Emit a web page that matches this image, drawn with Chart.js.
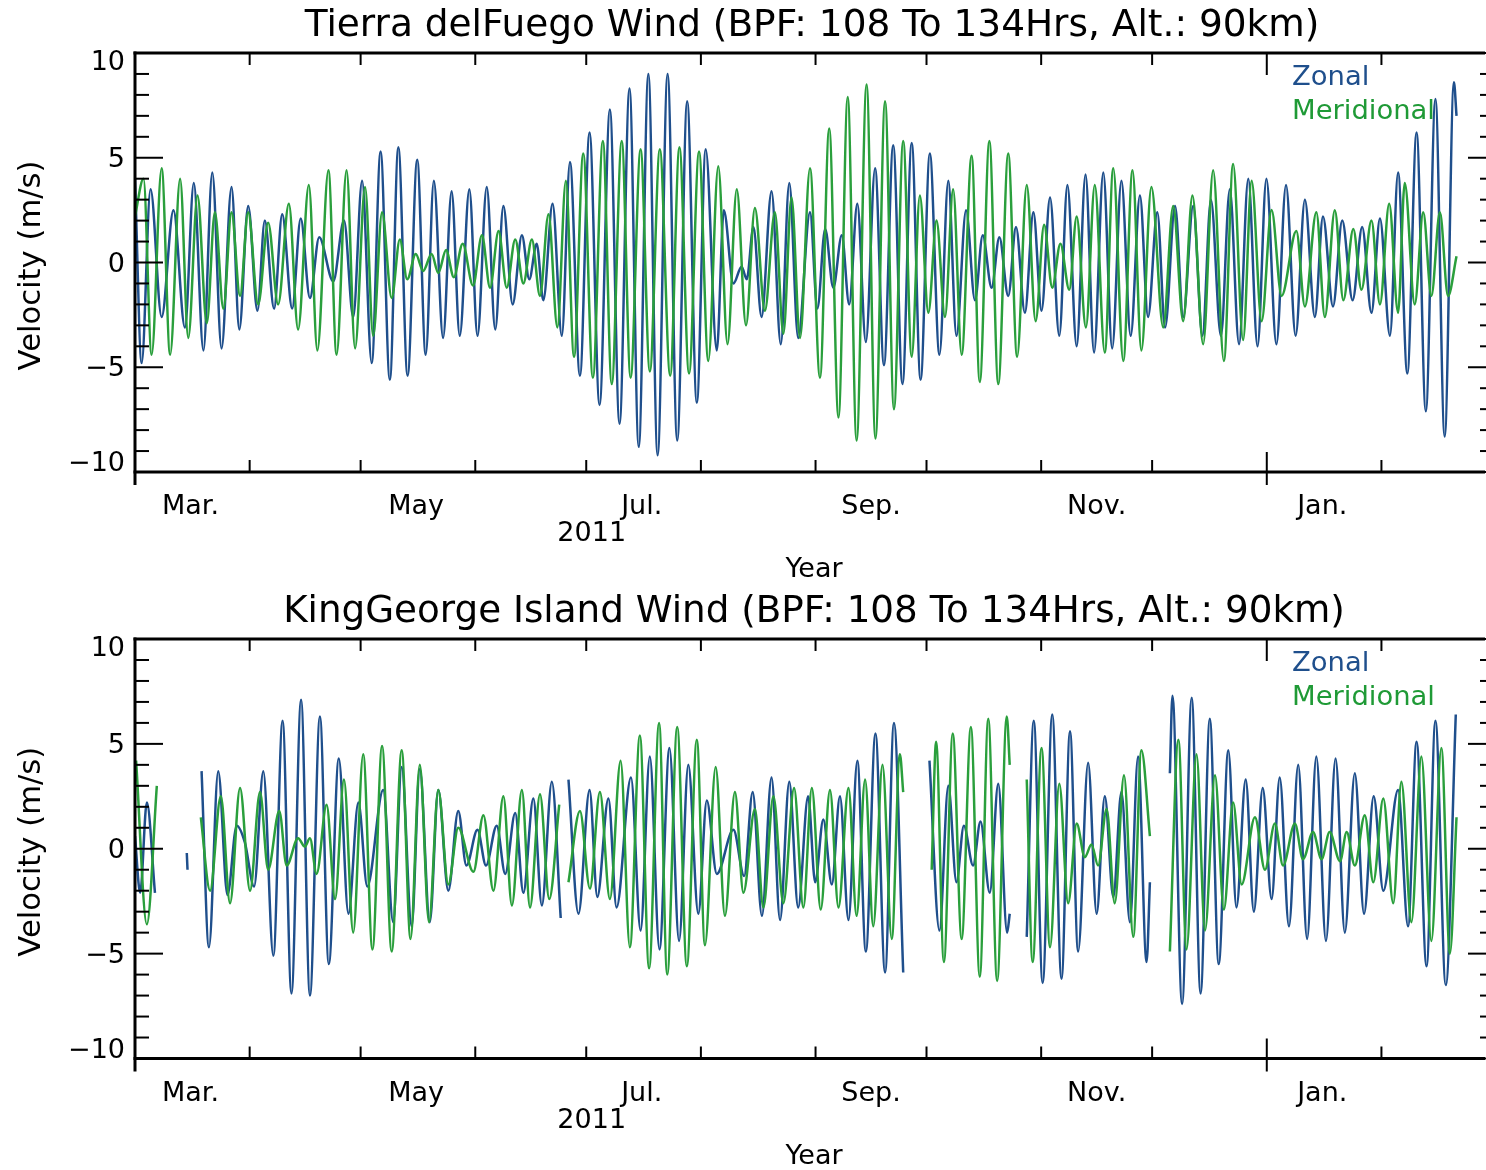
<!DOCTYPE html>
<html>
<head>
<meta charset="utf-8">
<script src="https://cdn.jsdelivr.net/npm/chart.js@4.4.1/dist/chart.umd.min.js"></script>
<style>
  html, body { margin: 0; padding: 0; background: #ffffff; }
  #wrap { position: relative; width: 1486px; height: 1170px; background: #fff; }
  canvas { position: absolute; left: 0; }
</style>
</head>
<body>
<div id="wrap">
  <canvas id="c1" width="1486" height="585" style="top:0px"></canvas>
  <canvas id="c2" width="1486" height="585" style="top:585px"></canvas>
</div>
<script>
// ---------- axis / label data ----------
const monthStartDays = [0, 31, 61, 92, 122, 153, 184, 214, 245, 275, 306, 337];
const yearStartDays = [306];
const monthLabelDays = [15, 76, 137, 199, 260, 321];
const monthLabels = ['Mar.', 'May', 'Jul.', 'Sep.', 'Nov.', 'Jan.'];
const yTickValues = [-10, -5, 0, 5, 10];
const yearText = '2011';
const seriesNames = ['Zonal', 'Meridional'];
const panelTitles = [
  'Tierra delFuego Wind (BPF: 108 To 134Hrs, Alt.: 90km)',
  'KingGeorge Island Wind (BPF: 108 To 134Hrs, Alt.: 90km)'
];

// ---------- series data (day since 1 Mar 2011, velocity m/s) ----------
const tdfZonalDays = [0,1.8,4.2,7.2,10.4,13.5,15.9,18.5,20.9,23.4,26.1,28.2,30.6,33.1,35.1,37.6,39.8,42.5,44.8,47.3,49.8,53.6,56.5,59.0,61.4,64.0,66.4,68.9,71.2,73.7,76.3,78.6,80.8,83.3,85.6,87.8,90.4,92.6,95.1,97.4,99.6,102.1,104.6,106.6,108.6,110.4,112.9,115.4,117.6,120.3,122.9,125.6,128.4,131.0,133.7,136.2,138.8,141.3,144.0,146.6,149.3,151.9,154.3,157.3,159.2,161.8,164.0,165.4,167.2,169.4,172.1,174.6,176.9,179.3,182.5,184.5,186.6,188.8,191.1,193.1,195.3,197.6,200.1,202.5,205.0,207.5,210.0,212.4,214.9,217.5,219.9,222.1,224.7,227.1,229.2,231.6,233.7,236.1,238.2,240.6,242.9,245.1,247.4,249.9,252.1,254.6,257.0,259.3,261.8,264.2,266.7,269.2,271.7,273.9,276.4,278.5,281.2,283.4,286.1,288.6,290.9,293.6,296.0,298.5,301.0,303.5,305.9,308.6,311.2,313.8,316.3,319.0,321.2,323.9,326.4,329.2,331.8,334.3,336.6,339.3,341.5,344.0,346.5,349.0,351.6,354.1,356.6,357.3];
const tdfZonalVals = [4.0,-4.8,3.5,-2.6,2.5,-3.1,3.8,-4.2,4.3,-4.1,3.6,-3.2,2.7,-2.3,2.0,-2.2,2.3,-2.2,2.1,-1.7,1.2,-0.9,2.0,-2.6,3.9,-4.8,5.3,-5.6,5.5,-5.4,4.9,-4.4,3.9,-3.6,3.4,-3.5,3.5,-3.5,3.6,-3.2,2.7,-2.0,1.3,-0.8,0.9,-1.8,2.8,-3.5,4.8,-5.4,6.2,-6.8,7.3,-7.7,8.3,-8.8,9.0,-9.2,9.0,-8.5,7.7,-6.7,5.4,-4.2,2.5,-1.0,-0.2,-0.8,1.7,-2.6,3.4,-3.9,3.8,-3.6,2.4,-2.2,1.6,-1.2,1.3,-2.0,2.8,-3.8,4.5,-4.9,5.6,-5.8,5.7,-5.6,5.2,-4.4,3.9,-3.5,2.5,-1.8,1.3,-1.2,1.2,-1.6,1.7,-2.4,2.4,-2.3,3.1,-3.5,3.7,-4.0,4.2,-4.3,4.3,-4.1,3.9,-3.5,3.2,-2.6,2.4,-3.1,2.7,-2.6,2.7,-3.5,3.0,-3.5,3.5,-3.9,4.0,-4.0,4.0,-3.9,3.7,-3.5,3.0,-2.6,2.2,-2.1,2.0,-1.8,1.7,-2.4,2.1,-3.5,4.3,-5.3,6.2,-7.1,7.8,-8.3,8.6,7.0];

const tdfMeridDays = [0,2.3,4.5,7.2,9.5,12.2,14.4,16.9,19.4,21.6,23.9,26.1,28.4,30.6,33.3,36.0,38.7,41.6,44.1,47.0,49.3,52.3,54.5,57.2,59.5,62.2,64.4,66.8,69.4,71.6,73.6,75.9,77.9,80.2,82.0,84.1,86.2,88.6,91.4,93.8,96.0,98.3,100.5,102.8,105.0,107.3,109.5,111.8,114.2,116.5,118.7,121.2,123.8,126.5,128.9,131.6,134.0,136.7,139.2,141.9,144.7,147.2,149.8,152.5,155.0,157.7,160.2,162.7,165.2,167.6,170.3,173.0,175.3,177.5,179.8,182.5,185.2,187.7,190.2,192.7,195.1,197.8,200.2,202.8,205.2,207.7,210.0,212.2,214.5,216.7,219.0,221.2,223.5,226.2,228.4,231.0,233.4,236.1,238.5,241.1,243.5,245.8,248.0,250.2,252.6,254.6,257.1,259.5,262.2,264.5,267.2,269.7,272.1,274.8,278.0,280.7,283.4,285.9,288.8,291.5,294.4,296.9,299.6,301.9,304.6,307.3,310.0,314.0,316.3,319.4,321.7,324.4,326.7,329.4,331.6,334.3,336.6,339.1,341.5,343.3,346.0,348.3,350.5,352.8,355.0,357.3];
const tdfMeridVals = [2.2,4.0,-4.4,4.5,-4.4,4.0,-3.6,3.2,-2.9,2.4,-2.2,2.4,-1.6,2.4,-2.0,1.9,-2.0,2.8,-3.2,3.7,-4.2,4.4,-4.4,4.4,-4.1,3.6,-3.5,2.4,-1.7,1.1,-0.8,0.4,-0.4,0.4,-0.5,0.6,-0.7,0.9,-1.1,1.3,-1.2,1.5,-1.2,1.1,-1.0,1.1,-1.6,2.3,-3.1,3.9,-4.5,5.2,-5.5,5.8,-5.8,5.8,-5.5,5.4,-5.2,5.4,-5.4,5.5,-5.3,5.3,-4.7,4.6,-3.9,3.5,-3.0,2.6,-2.3,2.4,-3.4,3.1,-3.6,4.5,-5.5,6.4,-7.4,7.9,-8.5,8.5,-8.4,7.7,-7.0,5.8,-4.5,3.2,-2.4,2.0,-2.6,3.5,-4.4,5.1,-5.7,5.8,-5.8,5.2,-4.5,3.7,-2.8,1.8,-1.2,0.9,-1.3,2.2,-3.1,3.7,-4.3,4.5,-4.7,4.4,-4.2,3.6,-3.1,2.7,-2.8,3.2,-3.9,4.4,-4.7,4.7,-3.7,3.9,-2.8,2.5,-1.6,1.5,-2.1,2.4,-2.6,2.5,-1.8,1.6,-1.3,2.0,-2.0,2.8,-2.4,3.8,-2.0,2.4,-1.6,2.4,-1.6,0.3];

const kgiZonalDays = [0,1.4,3.2,5.4,9,14.0,14.2,16,18.0,20.0,22.5,25.0,27.5,29.7,32.2,34.7,37.4,39.9,42.3,44.9,47.3,50.0,52.4,55.1,57.7,60.4,62.8,67.1,69.8,72.1,74.8,77.0,79.7,82.0,84.7,87.4,89.6,92.6,94.9,97.8,100.1,102.8,105.0,107.7,110.0,112.7,115.1,116.2,117.2,119.9,122.9,125.0,128.0,130.2,134.1,136.7,139.2,141.8,144.5,147.1,149.6,152.3,154.6,157.3,161.8,164.7,167.0,169.5,172.1,174.4,176.9,179.3,182.0,183.9,186.1,188.4,190.6,192.9,195.3,197.6,200.2,202.8,205.2,207.7,211,214.8,217.5,219.9,222.1,224.1,226.6,228.6,231.1,233.4,235.8,236.5,238.8,241.1,243.0,245.4,248.0,250.5,252.8,255.0,257.7,260.0,262.2,264.5,266.7,269.0,271.2,273.5,274.4,277,279.8,280.5,283.1,285.7,288.1,290.6,293.0,295.6,297.8,300.3,302.5,304.9,307.3,309.5,312.0,314.5,316.9,319.4,322.0,324.6,327.1,329.8,332.3,334.9,337.5,341.5,344.2,346.5,349.2,351.6,354.4,357.1];
const kgiZonalVals = [0.6,-2.1,2.2,-2.1,null,-0.2,-1.0,null,3.7,-4.7,3.7,-2.2,1.1,0.3,-1.8,3.7,-5.1,6.1,-6.9,7.1,-7.0,6.3,-5.5,4.3,-3.1,2.2,-1.8,2.8,-3.5,3.9,-3.7,3.8,-3.5,2.8,-2.0,1.8,-0.8,0.9,-0.8,1.1,-1.2,1.7,-2.1,2.4,-2.7,3.2,-3.3,null,3.3,-3.1,2.8,-2.3,2.4,-2.8,3.4,-3.9,4.4,-4.8,4.8,-4.4,4.0,-3.1,2.3,-1.2,0.9,-1.3,2.7,-3.2,3.4,-3.4,3.2,-2.8,2.5,-1.6,1.4,-1.7,2.5,-3.4,4.2,-4.9,5.5,-5.9,6.0,-5.9,null,4.2,-3.9,3.0,-1.6,1.1,-0.8,1.3,-2.1,3.1,-4.0,-3.1,null,-4.2,6.1,-6.4,6.4,-6.2,5.6,-4.9,4.1,-3.1,2.5,-2.3,2.7,-3.5,4.4,-5.4,-1.6,null,3.6,7.3,-7.4,7.2,-6.9,6.2,-5.5,4.7,-2.8,3.3,-3.0,2.9,-2.4,3.4,-3.7,4.0,-4.3,4.4,-4.4,4.3,-4.0,3.6,-3.1,2.5,-2.0,2.8,-3.7,5.1,-5.6,6.1,-6.5,6.4];

const kgiMeridDays = [0.3,3.2,5.9,11,17.8,20.3,23.2,25.7,28.4,31.1,33.8,36.0,39.0,41.0,44.1,45.9,47.3,49.1,51.8,54.1,56.5,59.0,61.7,64.2,66.8,69.4,72.1,74.5,77.0,79.5,82.0,84.7,87.4,91.5,94.2,96.9,99.6,101.9,104.6,106.8,109.5,112.0,114.7,116,117.2,120.3,123.0,125.7,128.4,131.3,133.8,136.5,139.0,141.7,143.9,146.6,149.2,151.9,154.1,157.0,159.5,162.2,164.5,167.6,169.9,172.6,175.3,178.2,180.7,183.0,185.4,187.9,190.2,192.9,195.1,197.4,199.6,202.1,204.6,206.8,207.7,211,215.4,216.6,218.7,221.1,223.5,226.0,228.4,230.7,233.1,235.7,236.5,238.8,241.1,242.7,245.1,247.4,249.9,252.3,254.6,256.8,258.6,260.4,262.7,264.9,267.4,269.9,272.1,274.4,277,279.8,282.1,284.3,287.0,289.3,292.0,294.4,296.9,299.2,302.8,305.5,308.2,310.4,313.6,315.8,318.5,320.8,323.0,325.8,327.6,329.8,332.5,334.8,337.5,340.2,342.4,345.1,347.8,350.5,353.2,355.5,357.3];
const kgiMeridVals = [4.2,-3.6,3.0,null,1.5,-2.0,2.5,-2.6,2.9,-2.0,2.7,-1.0,1.8,-0.8,0.5,0.1,0.5,-1.2,2.1,-2.4,3.3,-4.0,4.5,-4.8,4.9,-4.9,4.7,-4.3,4.0,-3.5,2.8,-1.7,1.0,-1.1,1.6,-2.0,2.5,-2.7,2.8,-2.8,2.6,-2.4,2.1,null,-1.6,1.8,-1.9,2.7,-2.4,4.2,-4.7,5.4,-5.7,6.0,-6.0,5.8,-5.6,5.2,-4.6,3.9,-3.2,2.7,-2.1,1.9,-2.8,2.5,-2.6,2.9,-2.8,2.9,-2.9,2.8,-2.8,2.9,-3.2,3.3,-3.7,4.0,-4.3,4.5,2.7,null,-1.0,5.1,-5.4,5.5,-4.3,5.8,-6.1,6.2,-6.3,6.3,4.0,null,3.3,-5.4,4.8,-4.7,3.1,-2.6,1.2,-0.4,0.2,-0.8,1.9,-2.6,3.5,-4.2,4.7,0.6,null,-4.9,5.2,-4.8,4.5,-3.9,3.5,-2.9,2.2,-1.7,1.5,-1.0,1.2,-0.8,1.2,-0.5,0.8,-0.5,0.8,-0.6,0.8,-0.8,1.6,-1.6,2.4,-2.6,3.2,-3.5,4.4,-4.4,4.8,-5.0,1.5];

// ---------- styling ----------
const ZONAL_COLOR = '#1f4f8c';
const MERID_COLOR = '#2a9f3c';
const FONT = '"DejaVu Sans", "Liberation Sans", sans-serif';

function toPoints(days, vals) {
  return days.map((d, i) => ({ x: d, y: vals[i] }));
}

function fitFontSize(ctx, text, targetWidth) {
  ctx.font = '100px ' + FONT;
  const w = ctx.measureText(text).width;
  return 100 * targetWidth / w;
}

function line(ctx, x1, y1, x2, y2) {
  ctx.beginPath(); ctx.moveTo(x1, y1); ctx.lineTo(x2, y2); ctx.stroke();
}

const framePlugin = {
  id: 'idlFrame',
  afterDraw(chart, args, opts) {
    const ctx = chart.ctx;
    const { left, right, top, bottom } = chart.chartArea;
    const xs = chart.scales.x, ys = chart.scales.y;
    ctx.save();
    ctx.strokeStyle = '#000';
    ctx.lineCap = 'butt';
    // axis lines
    ctx.lineWidth = 3;
    line(ctx, left - 1.5, top, right, top);
    line(ctx, left - 1.5, bottom, right, bottom);
    line(ctx, left, top - 1.5, left, bottom + 13);
    // month ticks
    ctx.lineWidth = 2;
    monthStartDays.forEach(d => {
      if (d === 0) return;
      const px = xs.getPixelForValue(d);
      const isYear = yearStartDays.includes(d);
      line(ctx, px, bottom, px, bottom - (isYear ? 20 : 12));
      if (isYear) line(ctx, px, bottom, px, bottom + 13);
      line(ctx, px, top, px, top + (isYear ? 22 : 12));
    });
    // y ticks (minor every 1, major every 5)
    for (let v = -10; v <= 10; v++) {
      const py = ys.getPixelForValue(v);
      const major = v % 5 === 0;
      if (v !== -10 && v !== 10) {
        line(ctx, left, py, left + (major ? 28 : 14), py);
      }
      line(ctx, chart.width, py, chart.width - (major ? 18 : 6), py);
    }
    // y tick labels, kept inside the frame like the original plotting package
    ctx.fillStyle = '#000';
    ctx.textAlign = 'right';
    ctx.textBaseline = 'middle';
    ctx.font = '27px ' + FONT;
    yTickValues.forEach(v => {
      const py = Math.min(Math.max(ys.getPixelForValue(v) + 2, top + 10), bottom - 8);
      ctx.fillText(v < 0 ? '\u2212' + Math.abs(v) : String(v), left - 10, py);
    });
    // texts
    ctx.textAlign = 'center';
    // title
    let fs = fitFontSize(ctx, opts.title, opts.titleWidth);
    ctx.font = fs.toFixed(2) + 'px ' + FONT;
    ctx.fillText(opts.title, opts.titleX, opts.titleY);
    // y axis title
    fs = fitFontSize(ctx, 'Velocity (m/s)', 210);
    ctx.font = fs.toFixed(2) + 'px ' + FONT;
    ctx.save();
    ctx.translate(32, (top + bottom) / 2 + 3);
    ctx.rotate(-Math.PI / 2);
    ctx.fillText('Velocity (m/s)', 0, 0);
    ctx.restore();
    // x axis title + year
    ctx.font = '27px ' + FONT;
    ctx.fillText('Year', (left + right) / 2 + 4, bottom + 98);
    ctx.fillText(yearText, xs.getPixelForValue(monthLabelDays[2]) - 50, bottom + 62);
    // legend
    ctx.textAlign = 'left';
    fs = fitFontSize(ctx, seriesNames[1], 143);
    ctx.font = fs.toFixed(2) + 'px ' + FONT;
    ctx.fillStyle = ZONAL_COLOR;
    ctx.fillText(seriesNames[0], 1292, top + 25);
    ctx.fillStyle = '#1f9a36';
    ctx.fillText(seriesNames[1], 1292, top + 59);
    ctx.restore();
  }
};

function makeChart(canvasId, zDays, zVals, mDays, mVals, cfg) {
  const canvas = document.getElementById(canvasId);
  return new Chart(canvas, {
    type: 'line',
    data: {
      datasets: [
        {
          label: seriesNames[0],
          data: toPoints(zDays, zVals),
          borderColor: ZONAL_COLOR,
          borderWidth: 2.5,
          pointRadius: 0,
          cubicInterpolationMode: 'monotone',
          spanGaps: false,
          order: 2
        },
        {
          label: seriesNames[1],
          data: toPoints(mDays, mVals),
          borderColor: MERID_COLOR,
          borderWidth: 2.5,
          pointRadius: 0,
          cubicInterpolationMode: 'monotone',
          spanGaps: false,
          order: 1
        }
      ]
    },
    options: {
      responsive: false,
      devicePixelRatio: 1,
      animation: false,
      events: [],
      layout: { padding: { left: 0, right: 1, top: cfg.top, bottom: 0 } },
      plugins: {
        legend: { display: false },
        tooltip: { enabled: false },
        title: { display: false },
        idlFrame: cfg
      },
      scales: {
        x: {
          type: 'linear',
          min: 0,
          max: 365,
          afterBuildTicks: s => { s.ticks = monthLabelDays.map(v => ({ value: v })); },
          afterFit: s => { s.height = cfg.xAxisHeight; },
          grid: { display: false, drawTicks: false },
          border: { display: false },
          ticks: {
            autoSkip: false,
            maxRotation: 0,
            padding: 19,
            color: '#000',
            font: { family: FONT, size: 27 },
            callback: (v, i) => monthLabels[i]
          }
        },
        y: {
          type: 'linear',
          min: -10,
          max: 10,
          afterBuildTicks: s => { s.ticks = yTickValues.map(v => ({ value: v })); },
          afterFit: s => { s.width = 135; },
          grid: { display: false, drawTicks: false },
          border: { display: false },
          ticks: { display: false }
        }
      }
    },
    plugins: [framePlugin]
  });
}

makeChart('c1', tdfZonalDays, tdfZonalVals, tdfMeridDays, tdfMeridVals, {
  top: 53, xAxisHeight: 113, title: panelTitles[0], titleWidth: 1015, titleX: 812, titleY: 26
});
makeChart('c2', kgiZonalDays, kgiZonalVals, kgiMeridDays, kgiMeridVals, {
  top: 54, xAxisHeight: 111.5, title: panelTitles[1], titleWidth: 1062, titleX: 814, titleY: 27
});
</script>
</body>
</html>
